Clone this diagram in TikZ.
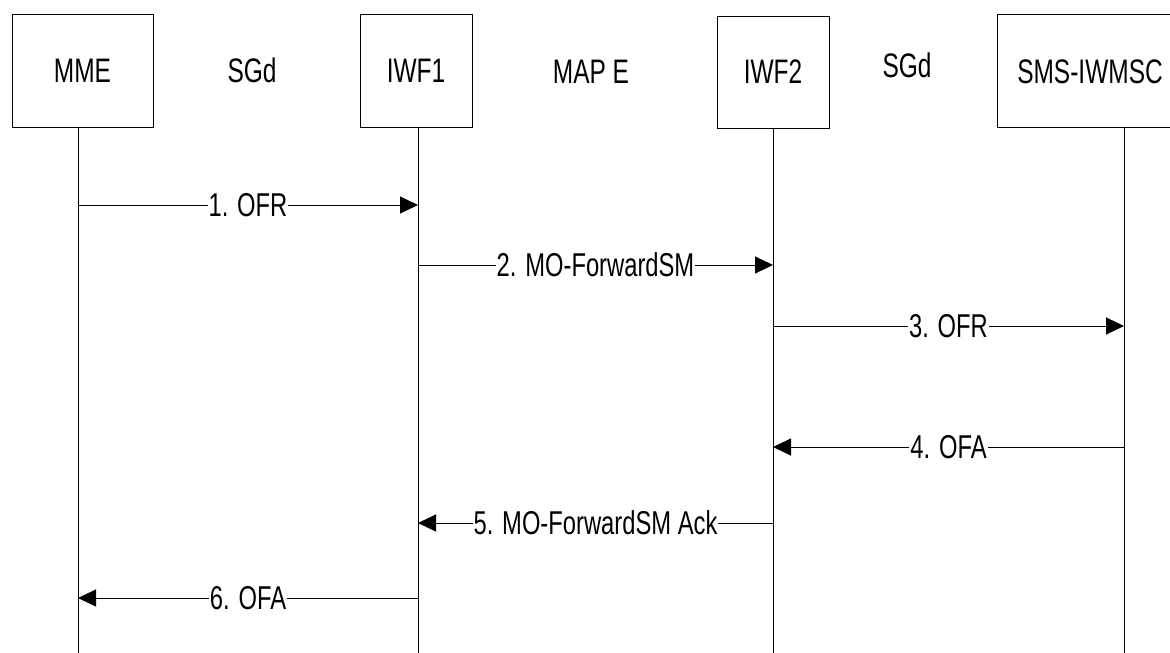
\documentclass[tikz,border=0pt]{standalone}
\usepackage{fontspec}
\setmainfont[FakeStretch=0.72]{Liberation Sans}
\usetikzlibrary{arrows.meta}
\begin{document}
\begin{tikzpicture}[x=1pt,y=-1pt,
  txt/.style={font=\fontsize{34}{40}\selectfont, inner sep=0pt},
  ent/.style={draw, line width=1pt, inner sep=0pt, font=\fontsize{34}{40}\selectfont},
  life/.style={line width=1pt},
  msg/.style={line width=1pt, -{Triangle[length=18pt,width=17pt]}},
  mlab/.style={fill=white, inner xsep=1pt, inner ysep=0pt, font=\fontsize{33}{39}\selectfont}]
\clip (0,0) rectangle (1170,653);
\fill[white] (0,0) rectangle (1170,653);
% entity boxes
\node[ent, minimum width=141pt, minimum height=113pt] (mme) at (82.5,70.5) {MME};
\node[ent, minimum width=112pt, minimum height=113pt] (iwf1) at (416,70.5) {IWF1};
\node[ent, minimum width=112pt, minimum height=112pt] (iwf2) at (773,72) {IWF2};
\node[ent, minimum width=254pt, minimum height=113pt] (sms) at (1124,70.5) {};
\node[txt] (smst) at (1090,72) {SMS-IWMSC};
% interface labels
\node[txt] (sgd1) at (252,70) {SGd};
\node[txt] (mape) at (591,72) {MAP E};
\node[txt] (sgd2) at (907,65) {SGd};
% lifelines
\coordinate (mmeT) at (78,127);   \coordinate (mmeB) at (78,660);
\coordinate (iwf1T) at (418,127); \coordinate (iwf1B) at (418,660);
\coordinate (iwf2T) at (773,128); \coordinate (iwf2B) at (773,660);
\coordinate (smsT) at (1124,127); \coordinate (smsB) at (1124,660);
\draw[life] (mmeT) -- (mmeB);
\draw[life] (iwf1T) -- (iwf1B);
\draw[life] (iwf2T) -- (iwf2B);
\draw[life] (smsT) -- (smsB);
% message levels
\coordinate (y1) at (0,205);
\coordinate (y2) at (0,265);
\coordinate (y3) at (0,326);
\coordinate (y4) at (0,447);
\coordinate (y5) at (0,523);
\coordinate (y6) at (0,598);
% messages
\draw[msg] (mmeT |- y1) -- node[mlab] (l1) {1. OFR} (iwf1T |- y1);
\draw[msg] (iwf1T |- y2) -- node[mlab] (l2) {2. MO-ForwardSM} (iwf2T |- y2);
\draw[msg] (iwf2T |- y3) -- node[mlab] (l3) {3. OFR} (smsT |- y3);
\draw[msg] (smsT |- y4) -- node[mlab] (l4) {4. OFA} (iwf2T |- y4);
\draw[msg] (iwf2T |- y5) -- node[mlab] (l5) {5. MO-ForwardSM Ack} (iwf1T |- y5);
\draw[msg] (iwf1T |- y6) -- node[mlab] (l6) {6. OFA} (mmeT |- y6);
\end{tikzpicture}
\end{document}
